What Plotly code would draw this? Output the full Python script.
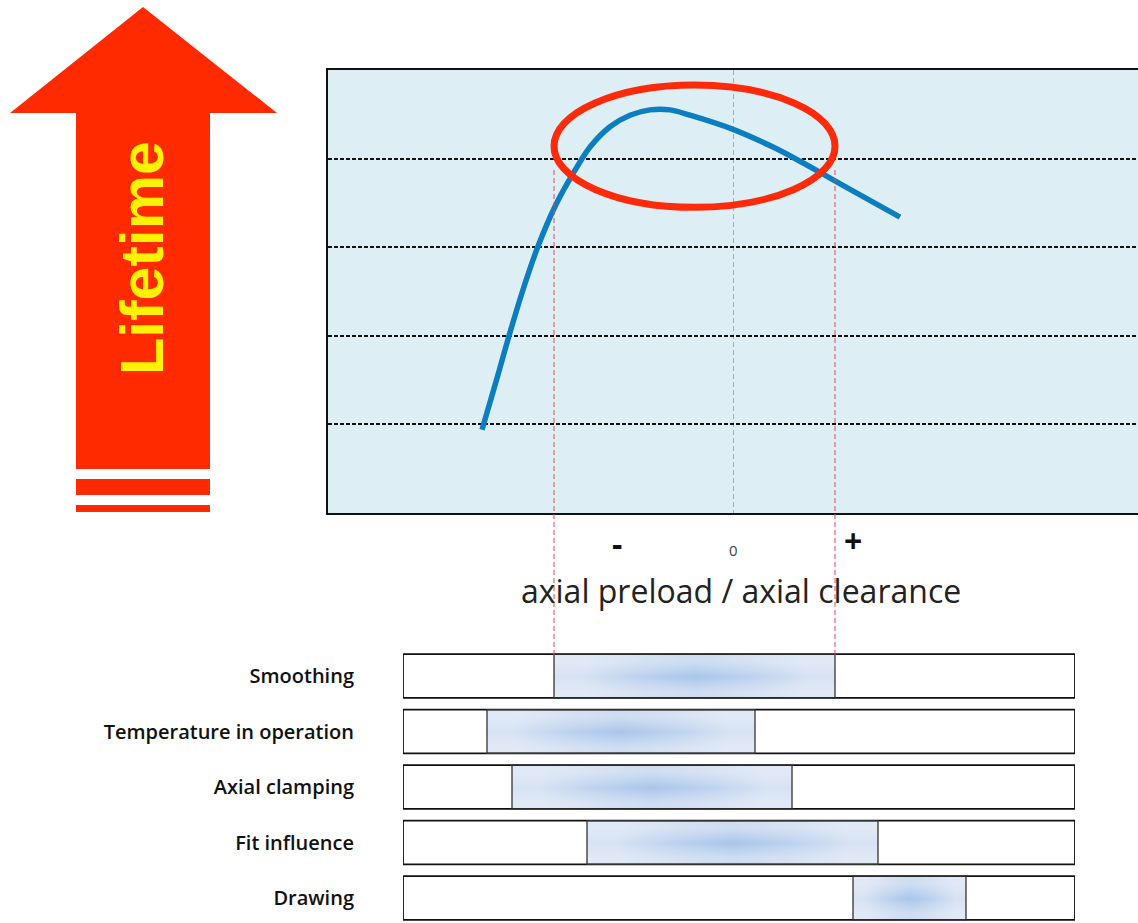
import plotly.graph_objects as go

W, H = 1138, 923


def px(x):
    return x / W


def py(y):
    return 1 - y / H


# ---------------- data ----------------
curve_x = [-2.51, -2.36, -2.25, -2.10, -1.95, -1.78, -1.60, -1.43, -1.23, -1.03, -0.83, -0.63,
           -0.43, 0.0, 0.40, 0.67, 0.94, 1.27, 1.67]
curve_y = [0.94, 1.52, 1.96, 2.52, 3.01, 3.46, 3.83, 4.13, 4.36, 4.49, 4.55, 4.55,
           4.49, 4.33, 4.13, 3.97, 3.80, 3.59, 3.34]

optimum_x = [-1.79, 1.02]      # ellipse / red guide lines
optimum_y = [3.45, 4.83]

sign_labels = ["-", "0", "+"]
sign_pos = [-1.16, 0.0, 1.20]

categories = ["Smoothing", "Temperature in operation", "Axial clamping", "Fit influence", "Drawing"]
rows = [0, 1, 2, 3, 4]
seg_start = [-1.79, -2.46, -2.21, -1.46, 1.20]
seg_end = [1.02, 0.22, 0.59, 1.45, 2.33]
box_start = -3.30
box_end = 3.42

# gradient pattern for shaded segments
grad_z = [[0.0, 0.2, 0.35, 0.2, 0.0],
          [0.2, 0.65, 1.0, 0.65, 0.2],
          [0.0, 0.2, 0.35, 0.2, 0.0]]

fig = go.Figure()

# main curve
fig.add_trace(go.Scatter(x=curve_x, y=curve_y, mode="lines",
                         line=dict(color="#0b7dc1", width=5.5, shape="spline", smoothing=0.9),
                         xaxis="x", yaxis="y", hoverinfo="skip"))

bar_w = 0.79
# gradient heatmaps for segments
for r, s, e in zip(rows, seg_start, seg_end):
    xe = [s + (e - s) * k / 5 for k in range(6)]
    ye = [r - bar_w / 2 + bar_w * k / 3 for k in range(4)]
    fig.add_trace(go.Heatmap(x=xe, y=ye, z=grad_z, zsmooth="best", zmin=0, zmax=1,
                             colorscale=[[0, "#e2e9f6"], [1, "#a9c6ea"]], showscale=False,
                             xaxis="x2", yaxis="y2", hoverinfo="skip"))

# outer boxes
fig.add_trace(go.Bar(y=rows, x=[box_end - box_start] * len(rows), base=[box_start] * len(rows),
                     orientation="h", width=bar_w,
                     marker=dict(color="rgba(0,0,0,0)", line=dict(color="#111", width=1.8)),
                     xaxis="x2", yaxis="y2", hoverinfo="skip"))
# segment outlines
fig.add_trace(go.Bar(y=rows, x=[e - s for s, e in zip(seg_start, seg_end)], base=seg_start,
                     orientation="h", width=bar_w,
                     marker=dict(color="rgba(0,0,0,0)", line=dict(color="#333", width=1.3)),
                     xaxis="x2", yaxis="y2", hoverinfo="skip"))

shapes = []
# main plot background
shapes.append(dict(type="rect", xref="x domain", yref="y domain", x0=0, x1=1, y0=0, y1=1,
                   fillcolor="#ddeff5", line=dict(width=0), layer="below"))
# ellipse
shapes.append(dict(type="circle", xref="x", yref="y", x0=optimum_x[0], x1=optimum_x[1],
                   y0=optimum_y[0], y1=optimum_y[1], line=dict(color="#ff2a0a", width=7)))
# red guide lines
for xv in optimum_x:
    shapes.append(dict(type="line", xref="x", yref="paper", x0=xv, x1=xv,
                       y0=py(655), y1=py(168), line=dict(color="#e04b55", width=1, dash="5px,3px")))

# Lifetime arrow
red = "#ff2a00"
arrow = [(10, 113), (143, 7), (277, 113), (210, 113), (210, 469), (76, 469), (76, 113)]
path = "M " + " L ".join(f"{px(a):.5f},{py(b):.5f}" for a, b in arrow) + " Z"
shapes.append(dict(type="path", xref="paper", yref="paper", path=path, fillcolor=red, line=dict(width=0)))
for y0, y1 in [(479, 495), (505, 512)]:
    shapes.append(dict(type="rect", xref="paper", yref="paper", x0=px(76), x1=px(210),
                       y0=py(y1), y1=py(y0), fillcolor=red, line=dict(width=0)))

annotations = [
    dict(text="<b>Lifetime</b>", x=px(142), y=py(258), xref="paper", yref="paper", textangle=-90,
         xanchor="center", yanchor="middle",
         showarrow=False, font=dict(family="Liberation Sans", size=61, color="#fff200")),
    dict(text="axial preload / axial clearance", x=px(741), y=py(590), xref="paper", yref="paper",
         xanchor="center", yanchor="middle",
         showarrow=False, font=dict(family="Open Sans", size=32, color="#222")),
]
sign_sizes = [32, 15, 32]
sign_y = [543, 550, 540]
for lab, xv, sz, yv in zip(sign_labels, sign_pos, sign_sizes, sign_y):
    annotations.append(dict(text=("<b>%s</b>" % lab) if lab != "0" else lab, x=xv, y=py(yv),
                            xref="x", yref="paper", showarrow=False, xanchor="center", yanchor="middle",
                            font=dict(family="Open Sans", size=sz, color="#111" if lab != "0" else "#444")))

fig.update_layout(
    width=W, height=H, autosize=False, margin=dict(l=0, r=0, t=0, b=0),
    paper_bgcolor="white", plot_bgcolor="rgba(0,0,0,0)", showlegend=False, barmode="overlay",
    xaxis=dict(domain=[px(328), 1], range=[-4.05, 4.05], anchor="y", tickvals=[0],
               showgrid=True, gridcolor="#8fb1cc", griddash="5px,3px", gridwidth=1,
               showticklabels=False, ticks="", zeroline=False,
               showline=True, linecolor="#111", linewidth=2, mirror=True, fixedrange=True),
    yaxis=dict(domain=[py(513), py(70)], range=[0, 5], anchor="x", tickvals=[1, 2, 3, 4],
               showgrid=True, gridcolor="#111", griddash="4px,2px", gridwidth=1.6,
               showticklabels=False, ticks="", zeroline=False,
               showline=True, linecolor="#111", linewidth=2, fixedrange=True),
    xaxis2=dict(domain=[px(403), px(1075)], range=[box_start, box_end], anchor="y2",
                visible=False, fixedrange=True),
    yaxis2=dict(domain=[0, py(648.25)], range=[4.45, -0.5], anchor="x2",
                tickvals=rows, ticktext=categories, showgrid=False, zeroline=False, showline=False,
                ticks="", ticklabelstandoff=48,
                tickfont=dict(family="Open Sans", size=20, color="#111", weight=600),
                fixedrange=True),
    shapes=shapes, annotations=annotations,
)

fig.write_html("out.html", config={"displayModeBar": False},
               post_script="document.body.style.margin='0';document.body.style.overflow='hidden';")
